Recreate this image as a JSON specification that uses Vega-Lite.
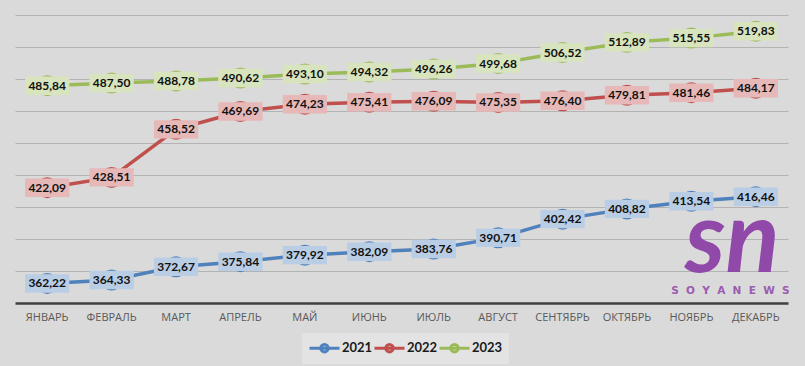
{
  "$schema": "https://vega.github.io/schema/vega-lite/v6.json",
  "width": 773,
  "height": 288,
  "autosize": {"type": "none"},
  "padding": {"left": 15, "top": 15, "right": 17, "bottom": 63},
  "background": "#dadada",
  "config": {
    "view": {"stroke": null},
    "locale": {"number": {"decimal": ",", "thousands": " ", "grouping": [3], "currency": ["", ""]}}
  },
  "data": {"values": [
    {"m": "ЯНВАРЬ", "year": "2021", "v": 362.22},
    {"m": "ФЕВРАЛЬ", "year": "2021", "v": 364.33},
    {"m": "МАРТ", "year": "2021", "v": 372.67},
    {"m": "АПРЕЛЬ", "year": "2021", "v": 375.84},
    {"m": "МАЙ", "year": "2021", "v": 379.92},
    {"m": "ИЮНЬ", "year": "2021", "v": 382.09},
    {"m": "ИЮЛЬ", "year": "2021", "v": 383.76},
    {"m": "АВГУСТ", "year": "2021", "v": 390.71},
    {"m": "СЕНТЯБРЬ", "year": "2021", "v": 402.42},
    {"m": "ОКТЯБРЬ", "year": "2021", "v": 408.82},
    {"m": "НОЯБРЬ", "year": "2021", "v": 413.54},
    {"m": "ДЕКАБРЬ", "year": "2021", "v": 416.46},
    {"m": "ЯНВАРЬ", "year": "2022", "v": 422.09},
    {"m": "ФЕВРАЛЬ", "year": "2022", "v": 428.51},
    {"m": "МАРТ", "year": "2022", "v": 458.52},
    {"m": "АПРЕЛЬ", "year": "2022", "v": 469.69},
    {"m": "МАЙ", "year": "2022", "v": 474.23},
    {"m": "ИЮНЬ", "year": "2022", "v": 475.41},
    {"m": "ИЮЛЬ", "year": "2022", "v": 476.09},
    {"m": "АВГУСТ", "year": "2022", "v": 475.35},
    {"m": "СЕНТЯБРЬ", "year": "2022", "v": 476.40},
    {"m": "ОКТЯБРЬ", "year": "2022", "v": 479.81},
    {"m": "НОЯБРЬ", "year": "2022", "v": 481.46},
    {"m": "ДЕКАБРЬ", "year": "2022", "v": 484.17},
    {"m": "ЯНВАРЬ", "year": "2023", "v": 485.84},
    {"m": "ФЕВРАЛЬ", "year": "2023", "v": 487.50},
    {"m": "МАРТ", "year": "2023", "v": 488.78},
    {"m": "АПРЕЛЬ", "year": "2023", "v": 490.62},
    {"m": "МАЙ", "year": "2023", "v": 493.10},
    {"m": "ИЮНЬ", "year": "2023", "v": 494.32},
    {"m": "ИЮЛЬ", "year": "2023", "v": 496.26},
    {"m": "АВГУСТ", "year": "2023", "v": 499.68},
    {"m": "СЕНТЯБРЬ", "year": "2023", "v": 506.52},
    {"m": "ОКТЯБРЬ", "year": "2023", "v": 512.89},
    {"m": "НОЯБРЬ", "year": "2023", "v": 515.55},
    {"m": "ДЕКАБРЬ", "year": "2023", "v": 519.83}
  ]},
  "encoding": {
    "x": {
      "field": "m", "type": "ordinal",
      "sort": ["ЯНВАРЬ", "ФЕВРАЛЬ", "МАРТ", "АПРЕЛЬ", "МАЙ", "ИЮНЬ", "ИЮЛЬ", "АВГУСТ", "СЕНТЯБРЬ", "ОКТЯБРЬ", "НОЯБРЬ", "ДЕКАБРЬ"],
      "scale": {"type": "band", "paddingInner": 0, "paddingOuter": 0},
      "axis": {"title": null, "labelAngle": 0, "ticks": false, "domainColor": "#404040", "domainWidth": 2.5, "labelFont": "Open Sans", "labelFontSize": 11, "labelColor": "#595959", "labelPadding": 8, "grid": false}
    },
    "y": {
      "field": "v", "type": "quantitative",
      "scale": {"domain": [350, 530], "nice": false, "zero": false},
      "axis": {"title": null, "labels": false, "ticks": false, "domain": false, "values": [370, 390, 410, 430, 450, 470, 490, 510, 530], "gridColor": "#b3b3b3", "gridWidth": 1}
    }
  },
  "layer": [
    {
      "data": {"values": [{"m": "НОЯБРЬ", "v": 369.5, "t": "sn"}]},
      "mark": {"type": "text", "font": "Lato", "fontSize": 100, "fontStyle": "italic", "fontWeight": "bold", "fill": "#9049a8", "baseline": "alphabetic", "align": "center", "dx": 41},
      "encoding": {
        "text": {"field": "t", "type": "nominal"}
      }
    },
    {
      "data": {"values": [{"m": "НОЯБРЬ", "v": 357.5, "t": "S\u00a0\u00a0O\u00a0\u00a0Y\u00a0\u00a0A\u00a0\u00a0N\u00a0\u00a0E\u00a0\u00a0W\u00a0\u00a0S"}]},
      "mark": {"type": "text", "font": "DejaVu Sans", "fontSize": 10.5, "fontWeight": "bold", "fill": "#9a5bb0", "baseline": "middle", "align": "center", "dx": 39},
      "encoding": {
        "text": {"field": "t", "type": "nominal"}
      }
    },
    {
      "mark": {"type": "line", "strokeWidth": 3.5},
      "encoding": {
        "color": {
          "field": "year", "type": "nominal",
          "scale": {"domain": ["2021", "2022", "2023"], "range": ["#4f81bd", "#c0504d", "#9bbb59"]},
          "legend": {
            "orient": "none", "legendX": 287, "legendY": 318, "direction": "horizontal", "title": null,
            "fillColor": "#e3e3e3", "padding": 6, "columnPadding": -11,
            "symbolType": "M-1,0L3,0M1.5,0A0.5,0.5,0,1,1,0.5,0A0.5,0.5,0,1,1,1.5,0Z",
            "symbolSize": 225, "symbolStrokeWidth": 3, "labelOffset": 16,
            "labelFont": "Lato", "labelFontSize": 13, "labelFontWeight": "bold", "labelColor": "#1a1a1a",
            "encode": {"symbols": {"update": {"fill": {"scale": "color", "field": "value"}}}}
          }
        }
      }
    },
    {
      "mark": {"type": "point", "shape": "circle", "filled": true, "size": 380, "strokeWidth": 1.5, "opacity": 1},
      "encoding": {
        "fill": {"field": "year", "type": "nominal", "scale": {"domain": ["2021", "2022", "2023"], "range": ["#b9cde5", "#e6b9b8", "#d7e4bd"]}, "legend": null},
        "stroke": {"field": "year", "type": "nominal", "scale": {"domain": ["2021", "2022", "2023"], "range": ["#4f81bd", "#c0504d", "#9bbb59"]}, "legend": null}
      }
    },
    {
      "mark": {"type": "point", "shape": "M-1.2,-0.5H1.2V0.5H-1.2Z", "filled": true, "size": 1360, "opacity": 1, "strokeWidth": 0},
      "encoding": {
        "fill": {"field": "year", "type": "nominal", "legend": null}
      }
    },
    {
      "mark": {"type": "text", "font": "Lato", "fontSize": 12, "fontWeight": "bold", "color": "#111111"},
      "encoding": {
        "text": {"field": "v", "type": "quantitative", "format": ".2f"}
      }
    }
  ]
}
